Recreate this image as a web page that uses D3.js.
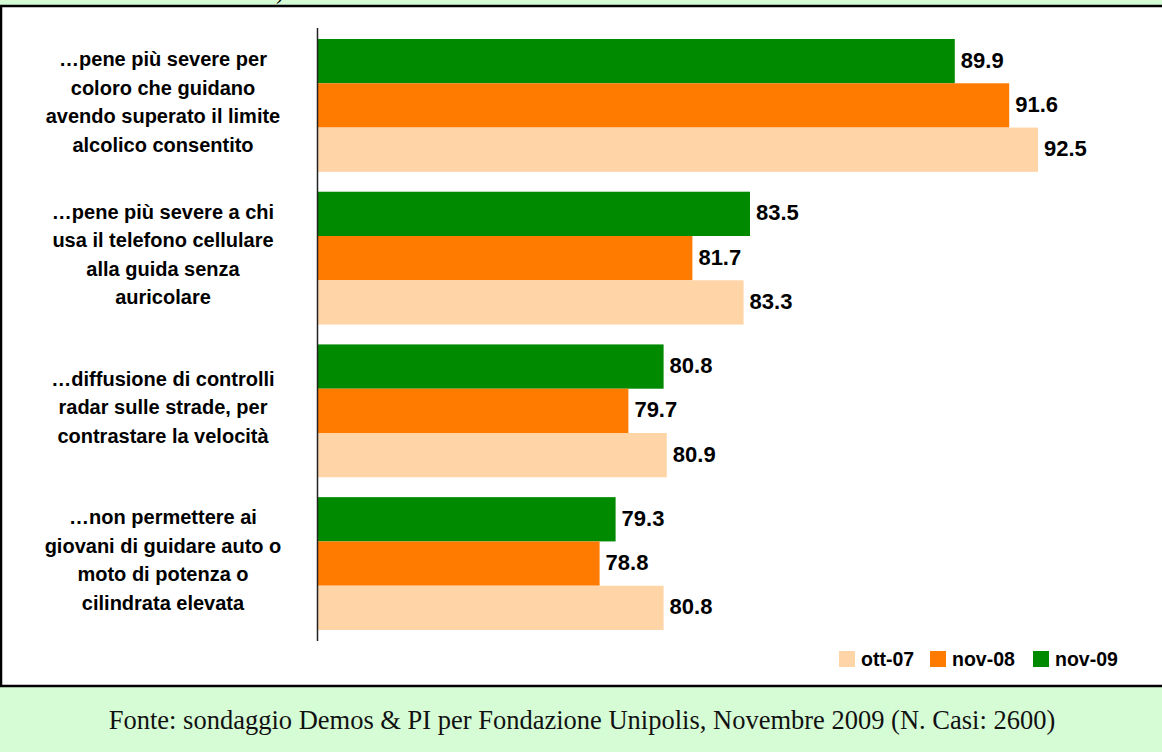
<!DOCTYPE html>
<html>
<head>
<meta charset="utf-8">
<script src="https://cdn.jsdelivr.net/npm/d3@7"></script>
<style>
  body { margin: 0; background: #fff; }
  svg { display: block; }
</style>
</head>
<body>
<svg id="chart"></svg>
<script>
(function () {
    // categories, one entry per group (lines as shown in the picture)
    const categories = [
        ['\u2026pene più severe per', 'coloro che guidano', 'avendo superato il limite', 'alcolico consentito'],
        ['\u2026pene più severe a chi', 'usa il telefono cellulare', 'alla guida senza', 'auricolare'],
        ['\u2026diffusione di controlli', 'radar sulle strade, per', 'contrastare la velocità'],
        ['\u2026non permettere ai', 'giovani di guidare auto o', 'moto di potenza o', 'cilindrata elevata']
    ];

    const seriesNames = ['ott-07', 'nov-08', 'nov-09'];
    const ott07 = [92.5, 83.3, 80.9, 80.8];
    const nov08 = [91.6, 81.7, 79.7, 78.8];
    const nov09 = [89.9, 83.5, 80.8, 79.3];

    const colors = { 'ott-07': '#ffd5a8', 'nov-08': '#ff7b00', 'nov-09': '#008a00' };
    const footerText = 'Fonte: sondaggio Demos & PI per Fondazione Unipolis, Novembre 2009 (N. Casi: 2600)';

    const W = 1162, H = 752;
    const svg = d3.select('#chart').attr('width', W).attr('height', H);

    // frame: green strips top and bottom, white panel between
    svg.append('rect').attr('x', 0).attr('y', 0).attr('width', W).attr('height', H).attr('fill', '#fff');
    svg.append('rect').attr('x', 0).attr('y', 0).attr('width', W).attr('height', 6).attr('fill', '#d6fcd6');
    svg.append('rect').attr('x', 0).attr('y', 686).attr('width', W).attr('height', H - 686).attr('fill', '#d6fcd6');
    svg.append('line').attr('x1', 0).attr('x2', W).attr('y1', 6).attr('y2', 6)
        .attr('stroke', '#000').attr('stroke-width', 2.5);
    svg.append('line').attr('x1', 0).attr('x2', W).attr('y1', 686).attr('y2', 686)
        .attr('stroke', '#000').attr('stroke-width', 2.5);
    svg.append('line').attr('x1', 1).attr('x2', 1).attr('y1', 6).attr('y2', 686)
        .attr('stroke', '#000').attr('stroke-width', 2.5);

    // tail of the cut-off title above
    svg.append('text').attr('x', 276).attr('y', -1)
        .attr('font-family', '"Liberation Serif", "Times New Roman", serif')
        .attr('font-size', 24).attr('fill', '#000').text(')');

    // scales
    const x = d3.scaleLinear().domain([70, 95]).range([318, 1118]);
    const y = d3.scaleBand().domain(d3.range(categories.length))
        .range([28, 641]).paddingInner(0.13).paddingOuter(0.072);
    const order = ['nov-09', 'nov-08', 'ott-07'];
    const yInner = d3.scaleBand().domain(order).range([0, y.bandwidth()]);

    const valuesBySeries = { 'ott-07': ott07, 'nov-08': nov08, 'nov-09': nov09 };

    const rows = [];
    categories.forEach((c, i) => {
        order.forEach(s => rows.push({ i: i, s: s, v: valuesBySeries[s][i] }));
    });

    const plot = svg.append('g');

    plot.selectAll('rect.bar')
        .data(rows)
        .join('rect')
        .attr('class', 'bar')
        .attr('x', x(70))
        .attr('y', d => y(d.i) + yInner(d.s))
        .attr('width', d => x(d.v) - x(70))
        .attr('height', yInner.bandwidth())
        .attr('fill', d => colors[d.s]);

    plot.selectAll('text.val')
        .data(rows)
        .join('text')
        .attr('class', 'val')
        .attr('x', d => x(d.v) + 6)
        .attr('y', d => y(d.i) + yInner(d.s) + yInner.bandwidth() / 2)
        .attr('dy', '0.3em')
        .attr('font-family', '"Liberation Sans", Arial, sans-serif')
        .attr('font-weight', 'bold')
        .attr('font-size', 22)
        .attr('fill', '#000')
        .text(d => d3.format('.1f')(d.v));

    // vertical axis line
    const axis = d3.axisLeft(y).tickSize(0).tickFormat('');
    const gAxis = svg.append('g').attr('transform', `translate(${x(70) - 0.5},0)`).call(axis);
    gAxis.select('.domain').attr('d', 'M0,28V641').attr('stroke', '#222').attr('stroke-width', 1.5);

    // category labels
    const lh = 28.5;
    const labels = svg.append('g')
        .attr('font-family', '"Liberation Sans", Arial, sans-serif')
        .attr('font-weight', 'bold')
        .attr('font-size', 20)
        .attr('fill', '#000')
        .attr('text-anchor', 'middle');
    categories.forEach((lines, i) => {
        const cy = y(i) + y.bandwidth() / 2;
        const y0 = cy - (lines.length - 1) / 2 * lh + 3.5;
        const t = labels.append('text');
        lines.forEach((ln, k) => {
            t.append('tspan').attr('x', 163).attr('y', y0 + k * lh).text(ln);
        });
    });

    // legend
    const legendX = [839, 930, 1033];
    const legend = svg.append('g')
        .attr('font-family', '"Liberation Sans", Arial, sans-serif')
        .attr('font-weight', 'bold')
        .attr('font-size', 19.5);
    seriesNames.forEach((s, k) => {
        legend.append('rect').attr('x', legendX[k]).attr('y', 651)
            .attr('width', 16).attr('height', 16).attr('fill', colors[s]);
        legend.append('text').attr('x', legendX[k] + 22).attr('y', 666).text(s);
    });

    // footer source note
    svg.append('text')
        .attr('x', 582).attr('y', 729)
        .attr('text-anchor', 'middle')
        .attr('font-family', '"Liberation Serif", "Times New Roman", serif')
        .attr('font-size', 26.5)
        .attr('fill', '#111')
        .text(footerText);
})();
</script>
</body>
</html>
